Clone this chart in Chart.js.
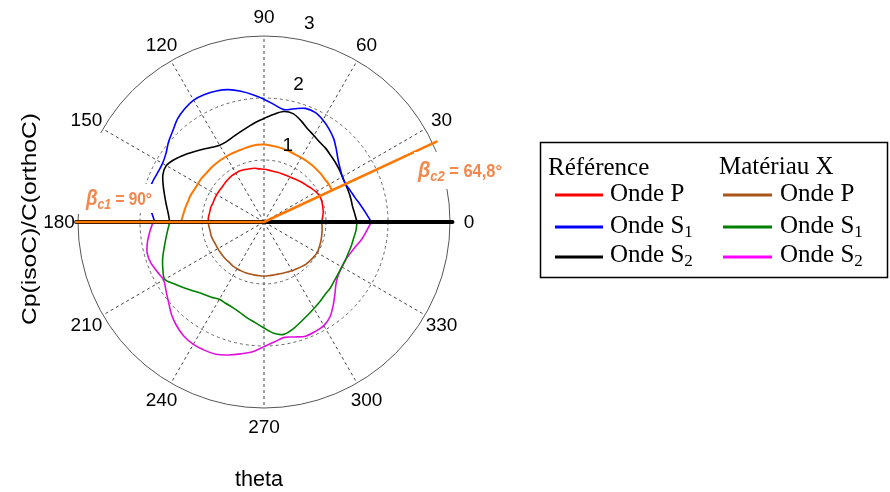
<!DOCTYPE html>
<html>
<head>
<meta charset="utf-8">
<script src="https://cdn.jsdelivr.net/npm/chart.js@4/dist/chart.umd.min.js"></script>
<style>
  html, body { margin: 0; padding: 0; background: #fff; }
  #wrap { position: relative; width: 890px; height: 492px; }
</style>
</head>
<body>
<div id="wrap"><canvas id="polarChart"></canvas></div>
<script>
// angular grid of the radar scale (degrees, counter-clockwise from 0 = east)
const stepDeg = 5;
const angleTicks = [0, 30, 60, 90, 120, 150, 180, 210, 240, 270, 300, 330];
const radialTicks = [1, 2, 3];

// upper half: Référence
const thetaUpper = [0, 5, 10, 15, 20, 25, 30, 35, 40, 45, 50, 55, 60, 65, 70, 75, 80, 85, 90,
  95, 100, 105, 110, 115, 120, 125, 130, 135, 140, 145, 150, 155, 160, 165, 170, 175, 180];
const refP = [0.93, 0.95, 0.97, 0.98, 0.99, 0.99, 0.97, 0.94, 0.91, 0.89, 0.87, 0.85, 0.84, 0.83, 0.83, 0.83, 0.83, 0.84, 0.85,
  0.86, 0.88, 0.89, 0.90, 0.91, 0.91, 0.91, 0.90, 0.89, 0.88, 0.88, 0.88, 0.88, 0.88, 0.89, 0.89, 0.90, 0.90];
const refS1 = [1.73, 1.65, 1.58, 1.52, 1.48, 1.45, 1.46, 1.50, 1.56, 1.65, 1.75, 1.83, 1.90, 1.95, 1.95, 1.89, 1.84, 1.90, 1.98,
  2.06, 2.14, 2.21, 2.25, 2.27, 2.27, 2.23, 2.17, 2.08, 2.01, 1.93, 1.89, 1.89, 1.91, 1.92, 1.88, 1.82, 1.76];
const refS2 = [1.50, 1.47, 1.45, 1.45, 1.45, 1.45, 1.46, 1.48, 1.50, 1.52, 1.55, 1.57, 1.61, 1.66, 1.74, 1.81, 1.81, 1.74, 1.67,
  1.61, 1.55, 1.50, 1.46, 1.43, 1.43, 1.47, 1.53, 1.60, 1.68, 1.76, 1.82, 1.80, 1.73, 1.66, 1.60, 1.55, 1.52];

// lower half: Matériau X
const thetaLower = [180, 185, 190, 195, 200, 205, 210, 215, 220, 225, 230, 235, 240, 245, 250, 255, 260, 265, 270,
  275, 280, 285, 290, 295, 300, 305, 310, 315, 320, 325, 330, 335, 340, 345, 350, 355, 360];
const matP = [0.90, 0.89, 0.88, 0.88, 0.87, 0.86, 0.86, 0.86, 0.86, 0.86, 0.86, 0.87, 0.87, 0.87, 0.87, 0.87, 0.87, 0.87, 0.87,
  0.87, 0.87, 0.87, 0.88, 0.89, 0.91, 0.92, 0.94, 0.96, 0.97, 0.98, 0.99, 0.98, 0.97, 0.96, 0.95, 0.94, 0.93];
const matS1 = [1.52, 1.56, 1.61, 1.67, 1.74, 1.80, 1.85, 1.75, 1.66, 1.58, 1.52, 1.48, 1.44, 1.45, 1.47, 1.51, 1.57, 1.63, 1.71,
  1.80, 1.84, 1.79, 1.72, 1.66, 1.61, 1.57, 1.53, 1.51, 1.48, 1.46, 1.45, 1.45, 1.45, 1.46, 1.47, 1.49, 1.50];
const matS2 = [1.79, 1.85, 1.91, 1.95, 1.94, 1.90, 1.87, 1.93, 2.01, 2.11, 2.19, 2.25, 2.28, 2.28, 2.27, 2.22, 2.16, 2.10, 2.01,
  1.94, 1.89, 1.92, 1.96, 1.95, 1.93, 1.86, 1.74, 1.62, 1.52, 1.47, 1.45, 1.45, 1.48, 1.53, 1.60, 1.66, 1.73];

// orange critical-angle curve and lines
const thetaOrange = [25, 30, 35, 40, 45, 50, 55, 60, 65, 70, 75, 80, 85, 90, 95, 100, 105,
  110, 115, 120, 125, 130, 135, 140, 145, 150, 155, 160, 165, 170, 175, 180];
const orangeCurve = [1.21, 1.21, 1.20, 1.20, 1.20, 1.20, 1.20, 1.20, 1.20, 1.21, 1.22, 1.23, 1.24, 1.25, 1.25, 1.24, 1.23,
  1.22, 1.22, 1.22, 1.22, 1.22, 1.22, 1.22, 1.23, 1.23, 1.24, 1.26, 1.27, 1.29, 1.31, 1.34];
const betaTheta = [180, 25];
const betaLen = [3.03, 3.07];
const axisTheta = [0, 180];
const axisLen = [3.04, 3.03];

const yTitle = 'Cp(isoC)/C(orthoC)';
const xTitle = 'theta';

const nSpokes = 360 / stepDeg;
const labels = [];
for (let i = 0; i < nSpokes; i++) labels.push(String((360 - i * stepDeg) % 360));

function idx(theta) {
  return ((360 - theta) / stepDeg) % nSpokes;
}
function toRadar(thetas, values) {
  const out = new Array(nSpokes).fill(null);
  thetas.forEach((t, i) => { out[idx(t)] = values[i]; });
  return out;
}
// a ray from the centre out to (theta, r)
function toRays(thetas, lens) {
  const out = new Array(nSpokes).fill(null);
  thetas.forEach((t, i) => {
    out[idx(t)] = lens[i];
    out[(idx(t) + 1) % nSpokes] = 0;
  });
  return out;
}

function curve(data, color, width) {
  return { data: data, borderColor: color, borderWidth: width, fill: false, tension: 0.3, pointRadius: 0 };
}

const datasets = [
  { data: toRays(betaTheta, betaLen), borderColor: '#ff7700', borderWidth: 2.5, fill: false, tension: 0, pointRadius: 0 },
  { data: toRays(axisTheta, axisLen), borderColor: '#000', borderWidth: 4, fill: false, tension: 0, pointRadius: 0 },
  curve(toRadar(thetaOrange, orangeCurve), '#ff7700', 2),
  curve(toRadar(thetaUpper, refP), '#ff0000', 1.6),
  curve(toRadar(thetaUpper, refS1), '#0000ff', 1.6),
  curve(toRadar(thetaUpper, refS2), '#000000', 1.6),
  curve(toRadar(thetaLower, matP), '#a8541a', 1.6),
  curve(toRadar(thetaLower, matS1), '#008000', 1.6),
  curve(toRadar(thetaLower, matS2), '#e010e0', 1.6)
];

function drawBeta(ctx, x, baseline, sub, rest, targetW) {
  const fBeta = 'bold italic 23px "Liberation Sans", Arial, sans-serif';
  const fSub = 'bold italic 15px "Liberation Sans", Arial, sans-serif';
  const fRest = 'bold 19px "Liberation Sans", Arial, sans-serif';
  ctx.font = fBeta; const w1 = ctx.measureText('β').width;
  ctx.font = fSub; const w2 = ctx.measureText(sub).width;
  ctx.font = fRest; const w3 = ctx.measureText(rest).width;
  const k = targetW / (w1 + w2 + w3);
  ctx.save();
  ctx.translate(x, baseline);
  ctx.scale(k, 1);
  ctx.fillStyle = '#f4874b';
  ctx.textAlign = 'left';
  ctx.textBaseline = 'alphabetic';
  ctx.font = fBeta; ctx.fillText('β', 0, 0);
  ctx.font = fSub; ctx.fillText(sub, w1, 4);
  ctx.font = fRest; ctx.fillText(rest, w1 + w2, 0);
  ctx.restore();
}

function stretchText(ctx, text, x, y, font, targetW, rotate) {
  ctx.save();
  ctx.translate(x, y);
  if (rotate) ctx.rotate(-Math.PI / 2);
  ctx.font = font;
  const w = ctx.measureText(text).width;
  ctx.scale(targetW / w, 1);
  ctx.textAlign = 'center';
  ctx.textBaseline = 'alphabetic';
  ctx.fillStyle = '#000';
  ctx.fillText(text, 0, 0);
  ctx.restore();
}

const legendRows = [
  { ref: '#ff0000', mat: '#a8541a', label: 'Onde P', sub: '' },
  { ref: '#0000ff', mat: '#008000', label: 'Onde S', sub: '1' },
  { ref: '#000000', mat: '#ff00ff', label: 'Onde S', sub: '2' }
];

const decorations = {
  id: 'decorations',
  afterDatasetsDraw(chart) {
    // white text boxes of the annotations hide what lies under them
    const ctx = chart.ctx;
    ctx.save();
    ctx.fillStyle = '#fff';
    ctx.fillRect(70, 133, 32, 81);
    ctx.fillRect(70, 184, 87, 29);
    ctx.fillRect(414, 152, 92, 37);
    ctx.restore();
  },
  afterDraw(chart) {
    const ctx = chart.ctx;
    const r = chart.scales.r;
    const cx = r.xCenter, cy = r.yCenter;
    ctx.save();
    ctx.fillStyle = '#000';
    ctx.font = '19px "Liberation Sans", Arial, sans-serif';
    ctx.textAlign = 'center';
    ctx.textBaseline = 'middle';
    angleTicks.forEach(a => {
      const d = r.drawingArea + 19;
      const rad = a * Math.PI / 180;
      ctx.fillText(String(a), cx + d * Math.cos(rad), cy - d * Math.sin(rad) + 1);
    });
    radialTicks.forEach(v => {
      const d = r.getDistanceFromCenterForValue(v);
      const rad = 80 * Math.PI / 180;
      ctx.fillText(String(v), cx + d * Math.cos(rad) + 13, cy - d * Math.sin(rad) - 15);
    });
    ctx.restore();

    stretchText(ctx, yTitle, 36, 219, '21px "Liberation Sans", Arial, sans-serif', 212, true);
    stretchText(ctx, xTitle, 259, 486, '22px "Liberation Sans", Arial, sans-serif', 48, false);

    drawBeta(ctx, 86, 205, 'c1', ' = 90°', 66);
    drawBeta(ctx, 418, 177, 'c2', ' = 64,8°', 84);

    // legend box
    ctx.save();
    ctx.strokeStyle = '#000';
    ctx.lineWidth = 1.5;
    ctx.strokeRect(540.5, 142.5, 347, 135);
    ctx.fillStyle = '#000';
    ctx.textBaseline = 'alphabetic';
    ctx.textAlign = 'left';
    ctx.font = '25px "Liberation Serif", "Times New Roman", serif';
    ctx.fillText('Référence', 548, 175);
    ctx.fillText('Matériau X', 719, 174);
    const baselines = [201, 233, 262];
    const lineY = [195, 227, 257];
    legendRows.forEach((row, i) => {
      ctx.lineWidth = 3;
      ctx.strokeStyle = row.ref;
      ctx.beginPath(); ctx.moveTo(555, lineY[i]); ctx.lineTo(603, lineY[i]); ctx.stroke();
      ctx.strokeStyle = row.mat;
      ctx.beginPath(); ctx.moveTo(723, lineY[i]); ctx.lineTo(772, lineY[i]); ctx.stroke();
      [610, 780].forEach(x0 => {
        ctx.font = '25px "Liberation Serif", "Times New Roman", serif';
        ctx.fillText(row.label, x0, baselines[i]);
        if (row.sub) {
          const w = ctx.measureText(row.label).width;
          ctx.font = '17px "Liberation Serif", "Times New Roman", serif';
          ctx.fillText(row.sub, x0 + w, baselines[i] + 4);
        }
      });
    });
    ctx.restore();
  }
};

new Chart(document.getElementById('polarChart'), {
  type: 'radar',
  data: { labels: labels, datasets: datasets },
  options: {
    responsive: true,
    maintainAspectRatio: false,
    animation: false,
    spanGaps: false,
    layout: { padding: { left: 78, right: 440, top: 36, bottom: 84 } },
    elements: { line: { borderJoinStyle: 'round', borderCapStyle: 'round' } },
    plugins: { legend: { display: false }, tooltip: { enabled: false } },
    scales: {
      r: {
        min: 0,
        max: 3,
        startAngle: 90,
        ticks: { display: false, stepSize: 1 },
        pointLabels: { display: false },
        grid: {
          circular: true,
          color: c => (c.tick && c.tick.value === 3) ? '#555' : '#666',
          lineWidth: 1
        },
        border: { dash: c => (c.tick && c.tick.value === 3) ? [] : [3, 3] },
        angleLines: {
          display: true,
          color: '#444',
          lineWidth: c => (c.index % (30 / stepDeg) === 0) ? 1 : 0,
          borderDash: [3, 3]
        }
      }
    }
  },
  plugins: [decorations]
});
</script>
</body>
</html>
